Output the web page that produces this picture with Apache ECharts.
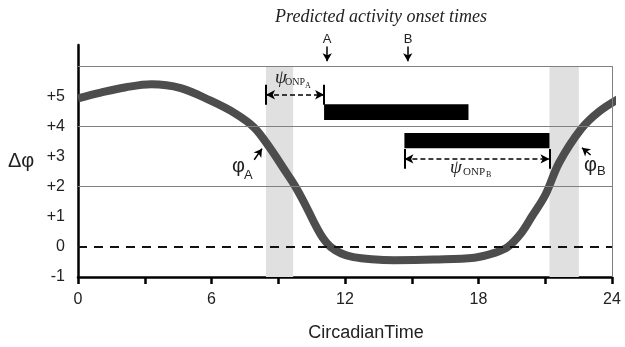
<!DOCTYPE html>
<html>
<head>
<meta charset="utf-8">
<script src="https://cdn.jsdelivr.net/npm/echarts@6/dist/echarts.min.js"></script>
<style>
  html, body { margin: 0; padding: 0; background: #fff; }
  #main { width: 625px; height: 347px; }
</style>
</head>
<body>
<div id="main"></div>
<script>
// phase response curve (circadian time, delta phi)
var hours = [0, 1.02, 2.16, 3.3, 4.62, 5.94, 7.04, 7.92, 8.61, 9.33, 9.77, 10.2, 10.63, 11.0, 11.35, 11.84, 12.38, 13.2, 14.21, 16.02, 17.81, 18.72, 19.32, 19.94, 20.39, 21.0, 21.63, 22.62, 23.43, 24.4]
var phaseShift = [4.93, 5.12, 5.3, 5.4, 5.27, 4.86, 4.44, 3.96, 3.3, 2.5, 2.0, 1.42, 0.78, 0.3, 0, -0.22, -0.34, -0.41, -0.44, -0.42, -0.36, -0.2, 0, 0.48, 1.0, 1.72, 2.8, 3.92, 4.5, 4.96]

// grey bands (light pulses)
var bandStart = [8.45, 21.19]
var bandEnd = [9.67, 22.51]

// predicted activity bars A / B
var onsetNames = ['A', 'B']
var onsetStart = [11.06, 14.67]
var onsetEnd = [17.55, 21.19]
var barLow = [4.21, 3.27]
var barHigh = [4.73, 3.78]
var onsetArrowX = [11.2, 14.82]

// psi ONP arrows
var psiFrom = [8.45, 14.67]
var psiTo = [11.06, 21.19]
var psiLevel = [5.05, 2.92]

// phi arrows (tail -> tip)
var phiTail = [[7.92, 2.89], [23.04, 3.05]]
var phiTip = [[8.27, 3.26], [22.65, 3.29]]

var gridLevels = [2, 4, 6]
var xTicks = [0, 6, 12, 18, 24]
var yTicks = [-1, 0, 1, 2, 3, 4, 5]

var curve = hours.map(function (h, i) { return [h, phaseShift[i]] })

var bandAreas = bandStart.map(function (s, i) {
  return [{ coord: [s, -1] }, { coord: [bandEnd[i], 6] }]
})
var barAreas = onsetStart.map(function (s, i) {
  return [{ coord: [s, barLow[i]] }, { coord: [onsetEnd[i], barHigh[i]] }]
})

var thinLines = gridLevels.map(function (v) { return { yAxis: v } })
thinLines.push([{ coord: [24, -1] }, { coord: [24, 6] }])

var psiLines = psiFrom.map(function (s, i) {
  return [{ coord: [s, psiLevel[i]] }, { coord: [psiTo[i], psiLevel[i]] }]
})
var psiEnds = []
psiFrom.forEach(function (s, i) {
  psiEnds.push([{ coord: [s, psiLevel[i] - 0.33] }, { coord: [s, psiLevel[i] + 0.33] }])
  psiEnds.push([{ coord: [psiTo[i], psiLevel[i] - 0.33] }, { coord: [psiTo[i], psiLevel[i] + 0.33] }])
})
var pointerLines = onsetArrowX.map(function (x) {
  return [{ coord: [x, 6.65] }, { coord: [x, 6.16] }]
})
phiTail.forEach(function (t, i) {
  pointerLines.push([{ coord: t }, { coord: phiTip[i] }])
})

var chart = echarts.init(document.getElementById('main'))

function txt (text, x, y, font, align) {
  return {
    type: 'text', x: x, y: y, silent: true, z: 10,
    style: { text: text, font: font, fill: '#222', align: align || 'left', verticalAlign: 'middle' }
  }
}

var option = {
  animation: false,
  grid: { left: 78, right: 13, top: 45, bottom: 69 },
  xAxis: {
    type: 'value', min: 0, max: 24, interval: 3,
    name: 'CircadianTime', nameLocation: 'middle', nameGap: 47,
    nameTextStyle: { fontSize: 18, color: '#222', fontFamily: 'Liberation Sans', padding: [0, 0, 0, 42] },
    axisLine: { onZero: false, lineStyle: { color: '#000', width: 2.5 } },
    axisTick: { length: 7, lineStyle: { color: '#000', width: 2.5 } },
    axisLabel: {
      margin: 15, fontSize: 16, color: '#222', fontFamily: 'Liberation Sans',
      formatter: function (v) { return xTicks.indexOf(v) >= 0 ? String(v) : '' }
    },
    splitLine: { show: false }
  },
  yAxis: {
    type: 'value', min: -1, max: 6.7, interval: 1,
    axisLine: { show: true, onZero: false, lineStyle: { color: '#000', width: 2.5 } },
    axisTick: { show: false },
    axisLabel: {
      margin: 13, fontSize: 16, color: '#222', fontFamily: 'Liberation Sans',
      formatter: function (v) {
        if (yTicks.indexOf(v) < 0) return ''
        return v > 0 ? '+' + v : String(v)
      }
    },
    splitLine: { show: false }
  },
  series: [
    {
      // bands + grid lines
      type: 'line', data: [], z: 1, silent: true,
      markArea: { silent: true, itemStyle: { color: '#e0e0e0' }, data: bandAreas },
      markLine: {
        silent: true, symbol: 'none', label: { show: false },
        lineStyle: { color: '#808080', width: 1, type: 'solid' },
        data: thinLines
      }
    },
    {
      type: 'line', data: [], z: 2, silent: true,
      markLine: {
        silent: true, symbol: 'none', label: { show: false },
        lineStyle: { color: '#111', width: 2, type: [9, 7] },
        data: [{ yAxis: 0 }]
      }
    },
    {
      name: 'phase', type: 'line', data: curve, z: 3,
      smooth: 0.35, showSymbol: false, clip: false, silent: true,
      lineStyle: { color: '#4d4d4d', width: 8 }
    },
    {
      // onset bars and arrows
      type: 'line', data: [], z: 4, silent: true,
      markArea: { silent: true, itemStyle: { color: '#000' }, data: barAreas },
      markLine: {
        silent: true, symbol: 'none', label: { show: false },
        lineStyle: { color: '#000', width: 2, type: 'solid' },
        data: psiEnds
      }
    },
    {
      type: 'line', data: [], z: 4, silent: true,
      markLine: {
        silent: true, symbol: ['arrow', 'arrow'], symbolSize: [7, 9], label: { show: false },
        lineStyle: { color: '#000', width: 1.5, type: [5, 3] },
        data: psiLines
      }
    },
    {
      type: 'line', data: [], z: 4, silent: true,
      markLine: {
        silent: true, symbol: ['none', 'arrow'], symbolSize: [7, 8], label: { show: false },
        lineStyle: { color: '#000', width: 1.5, type: 'solid' },
        data: pointerLines
      }
    }
  ],
  graphic: [
    txt('Predicted activity onset times', 381, 17, 'italic 18px "Liberation Serif"', 'center'),
    txt(onsetNames[0], 327, 39, '13px "Liberation Sans"', 'center'),
    txt(onsetNames[1], 408, 39, '13px "Liberation Sans"', 'center'),
    txt('Δφ', 8, 161, '20px "Liberation Sans"'),
    txt('φ', 232, 166, '20px "Liberation Sans"'),
    txt('A', 244, 175, '13px "Liberation Sans"'),
    txt('φ', 584, 165, '20px "Liberation Sans"'),
    txt('B', 597, 171, '13px "Liberation Sans"'),
    txt('ψ', 275, 78, 'italic 19px "Liberation Serif"'),
    txt('ONP', 285, 82, '10px "Liberation Serif"'),
    txt('A', 305, 86, '8px "Liberation Serif"'),
    txt('ψ', 450, 168, 'italic 19px "Liberation Serif"'),
    txt('ONP', 463, 172, '11px "Liberation Serif"'),
    txt('B', 486, 175, '8px "Liberation Serif"')
  ]
}

chart.setOption(option)
</script>
</body>
</html>
